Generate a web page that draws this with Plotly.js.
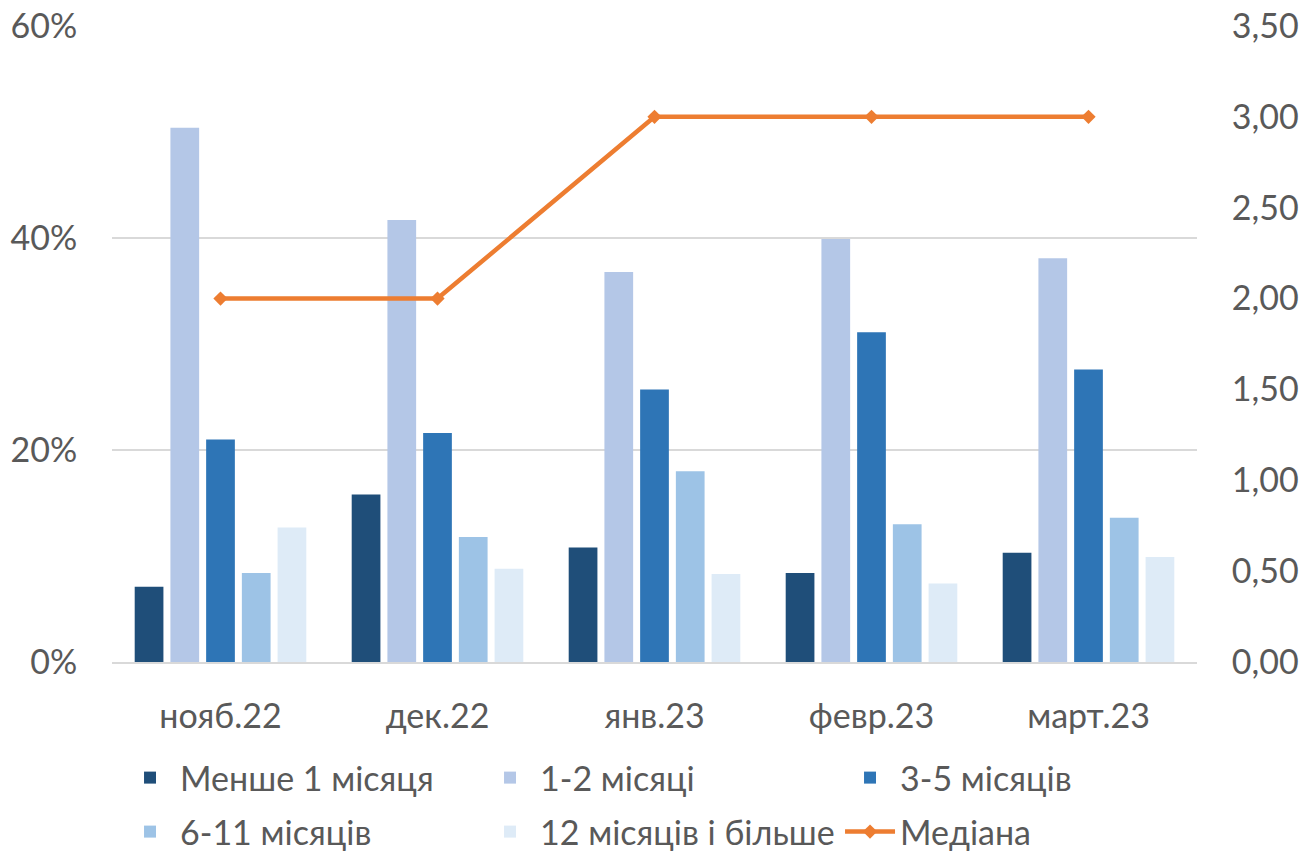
<!DOCTYPE html>
<html>
<head>
<meta charset="utf-8">
<script src="https://cdn.plot.ly/plotly-3.0.1.min.js"></script>
<style>html,body{margin:0;padding:0;background:#fff;}#chart{width:1303px;height:856px;}</style>
</head>
<body>
<div id="chart"></div>
<script>
const categories = ['нояб.22', 'дек.22', 'янв.23', 'февр.23', 'март.23'];
const seriesNames = ['Менше 1 місяця', '1-2 місяці', '3-5 місяців', '6-11 місяців', '12 місяців і більше'];
const lessThan1 = [0.071, 0.158, 0.108, 0.084, 0.103];
const months1to2 = [0.504, 0.417, 0.368, 0.399, 0.381];
const months3to5 = [0.210, 0.216, 0.257, 0.311, 0.276];
const months6to11 = [0.084, 0.118, 0.180, 0.130, 0.136];
const months12plus = [0.127, 0.088, 0.083, 0.074, 0.099];
const medianName = 'Медіана';
const median = [2.0, 2.0, 3.0, 3.0, 3.0];
const leftTicks = [0, 0.2, 0.4, 0.6];
const rightTicks = [0, 0.5, 1, 1.5, 2, 2.5, 3, 3.5];

const colors = ['#1F4E79', '#B4C7E7', '#2E75B6', '#9DC3E6', '#DEEBF7'];
const barData = [lessThan1, months1to2, months3to5, months6to11, months12plus];
const fontFam = 'Lato, "Open Sans", sans-serif';
const txt = '#595959';
const fs = 34;

const traces = barData.map((vals, i) => ({
  type: 'bar', name: seriesNames[i], x: categories, y: vals,
  marker: {color: colors[i]}, hoverinfo: 'x+y+name',
  legend: i < 3 ? 'legend' : 'legend2'
}));
traces.push({
  type: 'scatter', mode: 'lines+markers', name: medianName, x: categories, y: median,
  yaxis: 'y2', line: {color: '#ED7D31', width: 4.5},
  marker: {symbol: 'diamond', size: 11, color: '#ED7D31'},
  legend: 'legend2'
});

const legendCommon = {
  orientation: 'h', xanchor: 'left', yanchor: 'middle',
  entrywidth: 295, entrywidthmode: 'pixels', traceorder: 'normal',
  font: {family: fontFam, size: fs, color: txt}, itemwidth: 50, bgcolor: 'rgba(0,0,0,0)'
};

const layout = {
  width: 1303, height: 856,
  margin: {l: 112, r: 106, t: 26, b: 194, autoexpand: false},
  paper_bgcolor: '#fff', plot_bgcolor: '#fff',
  separators: ', ',
  font: {family: fontFam, size: fs, color: txt},
  barmode: 'group', bargap: 0.177, bargroupgap: 0.196,
  showlegend: true,
  legend: Object.assign({x: 0.0074, y: -0.1824}, legendCommon),
  legend2: Object.assign({x: 0.0074, y: -0.2673}, legendCommon),
  xaxis: {
    type: 'category', showgrid: false, showline: true, linecolor: '#D9D9D9', linewidth: 1.5,
    ticks: 'outside', ticklen: 23, tickcolor: 'rgba(0,0,0,0)', zeroline: false,
    tickfont: {family: fontFam, size: fs, color: txt}
  },
  yaxis: {
    range: [0, 0.6], tickvals: leftTicks, tickformat: '.0%',
    showgrid: true, gridcolor: '#D9D9D9', gridwidth: 1.5, zeroline: false, showline: false,
    ticks: 'outside', ticklen: 27, tickcolor: 'rgba(0,0,0,0)',
    tickfont: {family: fontFam, size: fs, color: txt}
  },
  yaxis2: {
    range: [0, 3.5], tickvals: rightTicks, tickformat: '.2f',
    overlaying: 'y', side: 'right', showgrid: false, zeroline: false, showline: false,
    ticks: 'outside', ticklen: 27, tickcolor: 'rgba(0,0,0,0)',
    tickfont: {family: fontFam, size: fs, color: txt}
  }
};

Plotly.newPlot('chart', traces, layout, {displayModeBar: false, responsive: false});
</script>
</body>
</html>
